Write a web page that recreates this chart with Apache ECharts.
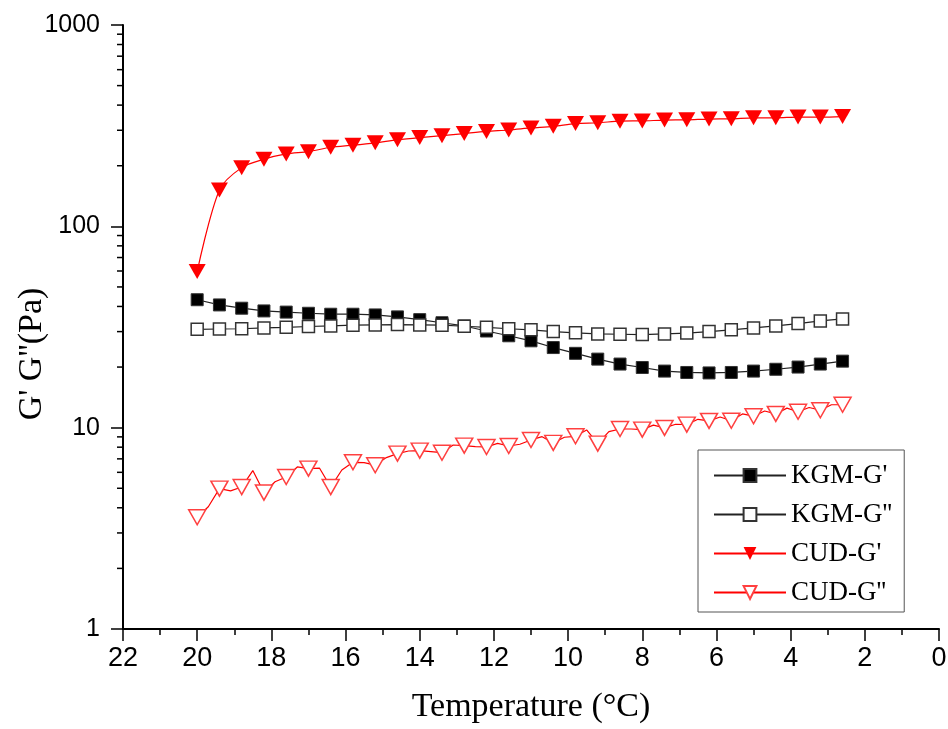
<!DOCTYPE html>
<html>
<head>
<meta charset="utf-8">
<script src="https://cdn.jsdelivr.net/npm/echarts@6/dist/echarts.min.js"></script>
<style>
  html, body { margin: 0; padding: 0; background: #fff; }
  #chart { width: 948px; height: 729px; }
</style>
</head>
<body>
<div id="chart"></div>
<script>
// Temperature sweep (°C), one entry per measured point
const temperature = [20, 19.4, 18.8, 18.2, 17.6, 17, 16.4, 15.8, 15.2, 14.6, 14, 13.4, 12.8, 12.2, 11.6,
  11, 10.4, 9.8, 9.2, 8.6, 8, 7.4, 6.8, 6.2, 5.6, 5, 4.4, 3.8, 3.2, 2.6];
// Intermediate readings of the noisy CUD-G'' trace
const midTemperature = [19.7, 19.1, 18.5, 17.9, 17.3, 16.7, 16.1, 15.5, 14.9, 14.3, 13.7, 13.1, 12.5, 11.9,
  11.3, 10.7, 10.1, 9.5, 8.9, 8.3, 7.7, 7.1, 6.5, 5.9, 5.3, 4.7, 4.1, 3.5, 2.9];

// Moduli (Pa)
const kgmG1 = [43.2, 40.7, 39.2, 38.0, 37.5, 37.0, 36.6, 36.6, 36.3, 35.5, 34.4, 33.2, 32.0, 30.2, 28.6,
  27.0, 25.0, 23.4, 21.9, 20.7, 19.9, 19.1, 18.8, 18.7, 18.8, 19.1, 19.5, 20.0, 20.7, 21.4];
const kgmG2 = [30.8, 30.9, 31.0, 31.3, 31.5, 31.8, 32.0, 32.3, 32.4, 32.5, 32.4, 32.3, 31.9, 31.5, 31.0,
  30.6, 30.0, 29.6, 29.2, 29.1, 29.0, 29.2, 29.5, 30.0, 30.6, 31.3, 32.0, 32.9, 33.9, 34.7];
const cudG1 = [59.6, 151.7, 195.7, 215.5, 229, 235, 247, 253, 260, 269, 276, 282, 289, 296, 301,
  308, 314, 324, 327, 333, 334, 337, 338, 341, 342, 346, 346, 349, 349, 351];
const cudG2 = [3.59, 4.98, 5.07, 4.76, 5.69, 6.26, 5.07, 6.73, 6.51, 7.43, 7.69, 7.51, 8.14, 8.02, 8.11,
  8.69, 8.40, 9.06, 8.33, 9.85, 9.78, 9.97, 10.35, 10.8, 10.83, 11.4, 11.7, 12.0, 12.2, 13.0];
const cudG2Mid = [4.05, 4.85, 6.12, 5.39, 6.38, 6.29, 6.16, 6.70, 7.10, 7.66, 7.60, 8.20, 8.05, 8.36,
  8.27, 9.02, 8.96, 9.74, 9.55, 9.85, 10.3, 10.4, 11.0, 11.3, 11.7, 12.1, 12.5, 12.6, 13.0];

const xTicks = [0, 22, 2];          // min, max, step
const yTicks = [1, 1000];           // log range
const seriesNames = ["KGM-G'", "KGM-G''", "CUD-G'", "CUD-G''"];
const xTitle = 'Temperature (°C)';
const yTitle = "G' G''(Pa)";

const pairs = (xs, ys) => xs.map((x, i) => [x, ys[i]]);

// Interleave marker readings with the in-between readings; markers only on the former
const cudG2Trace = [];
temperature.forEach((t, i) => {
  cudG2Trace.push([t, cudG2[i], 1]);
  if (i < midTemperature.length) cudG2Trace.push([midTemperature[i], cudG2Mid[i], 0]);
});

const chart = echarts.init(document.getElementById('chart'), null, { renderer: 'canvas' });

const gridLeft = 123, gridTop = 25, gridRight = 9, gridBottom = 100;

chart.setOption({
  animation: false,
  backgroundColor: '#fff',
  grid: { left: gridLeft, top: gridTop, right: gridRight, bottom: gridBottom, containLabel: false, outerBoundsMode: 'none' },
  xAxis: {
    type: 'value', inverse: true, min: xTicks[0], max: xTicks[1], interval: xTicks[2],
    name: xTitle, nameLocation: 'middle', nameGap: 61,
    nameTextStyle: { fontFamily: 'Liberation Serif', fontSize: 34, color: '#000' },
    axisLine: { onZero: false, lineStyle: { color: '#000', width: 2 } },
    axisTick: { inside: false, length: 12, lineStyle: { color: '#000', width: 1.5 } },
    minorTick: { show: true, splitNumber: 2, length: 6, lineStyle: { color: '#000', width: 1.5 } },
    axisLabel: { margin: 16, fontFamily: 'Liberation Sans', fontSize: 27, color: '#000' },
    splitLine: { show: false }
  },
  yAxis: {
    type: 'log', logBase: 10, min: yTicks[0], max: yTicks[1],
    axisLine: { show: true, onZero: false, lineStyle: { color: '#000', width: 2 } },
    axisTick: { inside: false, length: 12, lineStyle: { color: '#000', width: 1.5 } },
    axisLabel: {
      margin: 23, fontFamily: 'Liberation Sans', fontSize: 25, color: '#000',
      formatter: (v) => String(Math.round(v))
    },
    splitLine: { show: false }
  },
  legend: {
    orient: 'vertical', left: 698, top: 450,
    borderColor: '#555', borderWidth: 1, borderRadius: 0,
    padding: [12, 12, 6, 15],
    itemWidth: 72, itemHeight: 16, itemGap: 12,
    textStyle: { fontFamily: 'Liberation Serif', fontSize: 27, color: '#000' },
    data: seriesNames
  },
  series: [
    {
      name: seriesNames[0], type: 'line', data: pairs(temperature, kgmG1),
      symbol: 'rect', symbolSize: 12, z: 3,
      lineStyle: { color: '#222', width: 1.2 },
      itemStyle: { color: '#000', borderColor: '#333', borderWidth: 1 }
    },
    {
      name: seriesNames[1], type: 'line', data: pairs(temperature, kgmG2),
      symbol: 'rect', symbolSize: 12, z: 4,
      lineStyle: { color: '#222', width: 1.2 },
      itemStyle: { color: '#fff', borderColor: '#333', borderWidth: 1.5 }
    },
    {
      name: seriesNames[2], type: 'line', data: pairs(temperature, cudG1),
      symbol: 'triangle', symbolRotate: 180, symbolSize: [17, 15], smooth: 0.3, z: 5,
      lineStyle: { color: '#ff0000', width: 1.2 },
      itemStyle: { color: '#ff0000', borderColor: '#ff0000', borderWidth: 0 }
    },
    {
      name: seriesNames[3], type: 'line', data: cudG2Trace,
      symbol: 'triangle', symbolRotate: 180, showAllSymbol: true,
      symbolSize: (val) => (val[2] ? [17, 15] : 0), z: 6,
      lineStyle: { color: '#ff0000', width: 1.2 },
      itemStyle: { color: '#fff', borderColor: '#ff4040', borderWidth: 1.5 }
    }
  ]
});

// Logarithmic minor ticks on the y axis (2..9 within each decade), plus the y title
const extras = [];
for (let decade = 1; decade < 1000; decade *= 10) {
  for (let m = 2; m <= 9; m++) {
    const y = chart.convertToPixel({ yAxisIndex: 0 }, m * decade);
    extras.push({
      type: 'line', silent: true,
      shape: { x1: gridLeft - 6, y1: y, x2: gridLeft, y2: y },
      style: { stroke: '#000', lineWidth: 1.5 }
    });
  }
}
extras.push({
  type: 'text', silent: true, x: 32, y: 354, rotation: Math.PI / 2,
  style: {
    text: yTitle, fontFamily: 'Liberation Serif', fontSize: 34, fill: '#000',
    align: 'center', verticalAlign: 'middle'
  }
});
chart.setOption({ graphic: extras });
</script>
</body>
</html>
